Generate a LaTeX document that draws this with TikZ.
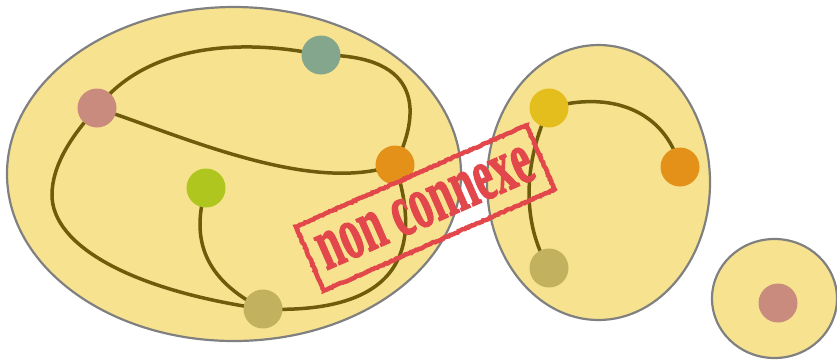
\documentclass[tikz,border=0pt]{standalone}
\usepackage{fontspec}
\newfontfamily\stampfont{Liberation Serif Bold}[FakeBold=2]
\usetikzlibrary{decorations.pathmorphing}
\definecolor{setfill}{RGB}{247,227,143}
\definecolor{setline}{RGB}{128,128,128}
\definecolor{edgecol}{RGB}{110,91,12}
\definecolor{cpink}{RGB}{201,139,126}
\definecolor{cgreen}{RGB}{132,166,141}
\definecolor{corange}{RGB}{227,145,25}
\definecolor{clime}{RGB}{174,198,30}
\definecolor{ckhaki}{RGB}{194,177,94}
\definecolor{cyellow}{RGB}{227,190,29}
\definecolor{stampred}{RGB}{226,71,75}
\tikzset{
  setbox/.style={ellipse, draw=setline, fill=setfill, line width=2.2pt, inner sep=0pt},
  vert/.style={circle, minimum size=39pt, inner sep=0pt, draw=none},
  edge/.style={draw=edgecol, line width=3.5pt},
  stampbox/.style={draw=stampred, text=stampred, line width=4.5pt, rectangle,
    minimum width=252pt, minimum height=70pt, inner sep=0pt, rotate=23.7,
    decorate, decoration={random steps, segment length=1.5pt, amplitude=0.6pt}}
}
\usetikzlibrary{shapes.geometric}
\begin{document}
\begin{tikzpicture}[x=1pt,y=-1pt]
\useasboundingbox (0,0) rectangle (837,360);
% sets
\node[setbox, minimum width=454pt, minimum height=334pt] (S1) at (234,174) {};
\node[setbox, minimum width=223pt, minimum height=275pt] (S2) at (598.5,182.5) {};
\node[setbox, minimum width=125pt, minimum height=119pt] (S3) at (774.5,298.5) {};
% vertices (positions)
\node[vert] (A) at (97,108) {};
\node[vert] (B) at (321,55) {};
\node[vert] (C) at (395,165) {};
\node[vert] (D) at (206,188) {};
\node[vert] (E) at (263,309) {};
\node[vert] (F) at (549,108) {};
\node[vert] (G) at (680,167) {};
\node[vert] (H) at (549,268) {};
\node[vert] (I) at (778,303) {};
% edges
\draw[edge] (A.center) .. controls (150,40) and (250,40) .. (B.center);
\draw[edge] (B.center) .. controls (425,55) and (420,115) .. (C.center);
\draw[edge] (A.center) .. controls (180,135) and (310,195) .. (C.center);
\draw[edge] (A.center) .. controls (72,135) and (52,165) .. (52,195)
                       .. controls (52,245) and (130,290) .. (E.center);
\draw[edge] (D.center) .. controls (190,240) and (205,280) .. (E.center);
\draw[edge] (C.center) .. controls (420,240) and (410,315) .. (E.center);
\draw[edge] (F.center) .. controls (610,90) and (665,110) .. (G.center);
\draw[edge] (F.center) .. controls (520,170) and (525,230) .. (H.center);
% vertex discs
\fill[cpink] (A) circle (19.5pt);
\fill[cgreen] (B) circle (19.5pt);
\fill[corange] (C) circle (19.5pt);
\fill[clime] (D) circle (19.5pt);
\fill[ckhaki] (E) circle (19.5pt);
\fill[cyellow] (F) circle (19.5pt);
\fill[corange] (G) circle (19.5pt);
\fill[ckhaki] (H) circle (19.5pt);
\fill[cpink] (I) circle (19.5pt);
% stamp
\node[stampbox] (stamp) at (425.25,208) {\raisebox{-4pt}{\scalebox{0.58}[1]{\stampfont\fontsize{75}{75}\selectfont non connexe}}};
\end{tikzpicture}
\end{document}
